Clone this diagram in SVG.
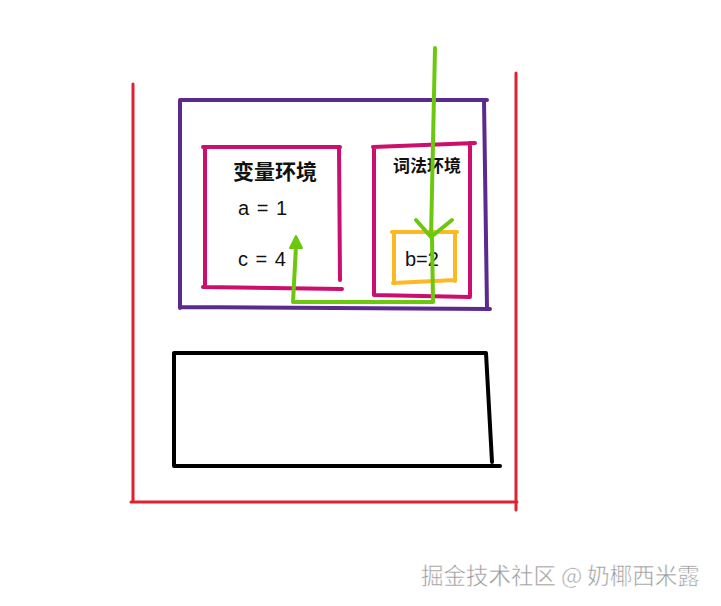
<svg xmlns="http://www.w3.org/2000/svg" width="721" height="606" viewBox="0 0 721 606">
<defs>
<style>
.ln{fill:none;stroke-linecap:round;stroke-linejoin:round}
.red{stroke:#e0212f;stroke-width:3}
.pur{stroke:#5b2a8e;stroke-width:4}
.pink{stroke:#cc0e6e;stroke-width:4}
.yel{stroke:#fbb923;stroke-width:4}
.blk{stroke:#000;stroke-width:4}
.grn{stroke:#6cc80e;stroke-width:4}
.t{font-family:"Liberation Sans","Noto Sans CJK SC",sans-serif;fill:#111}
</style>
</defs>
<rect width="721" height="606" fill="#fff"/>
<g id="outer">
<path class="ln red" d="M133,84 L133,502 M131,502 L517,502 M516,73 L516,510"/>
</g>
<g id="stack">
<path class="ln pur" d="M180,100 L487,100 M180,100 L180,308 M180,307 L490,309 M484,100 L487,308"/>
</g>
<g id="varenv">
<path class="ln pink" d="M203,147 L340,147 M205,147 L205,287 M203,287 L342,289 M339,147 L340,280"/>
<text class="t" x="233" y="179" font-size="21" font-weight="bold">变量环境</text>
<text class="t" x="238" y="215" font-size="20" letter-spacing="1">a = 1</text>
<text class="t" x="238" y="266" font-size="20" letter-spacing="1">c = 4</text>
</g>
<g id="lexenv">
<path class="ln pink" d="M373,147 L475,143 M374,147 L374,295 M374,295 L470,297 M470,143 L470,296"/>
<text class="t" x="393" y="172" font-size="17" font-weight="bold">词法环境</text>
</g>
<g id="bbox">
<path class="ln yel" d="M392,232 L457,232 M394,232 L394,283 M393,283 L455,280 M455,232 L455,281"/>
<text class="t" x="405" y="266" font-size="20">b=2</text>
</g>
<g id="block">
<path class="ln blk" d="M174,353 L486,353 M174,353 L174,466 M174,466 L500,466 M486,353 L492,462"/>
</g>
<g id="connectors">
<path class="ln grn" d="M435,48 L431,237 M416,220 L431,237 L452,220"/>
<path class="ln grn" d="M432,237 L433,302 L293,302 L296,246"/>
<polygon points="296,236 290,248 302,248" fill="#6cc80e" stroke="#6cc80e" stroke-width="2" stroke-linejoin="round"/>
</g>
<text x="421" y="584" font-family="'Noto Sans CJK SC',sans-serif" font-size="22.5" fill="#999" stroke="#fff" stroke-width="0.5">掘金技术社区 @ 奶椰西米露</text>
</svg>
